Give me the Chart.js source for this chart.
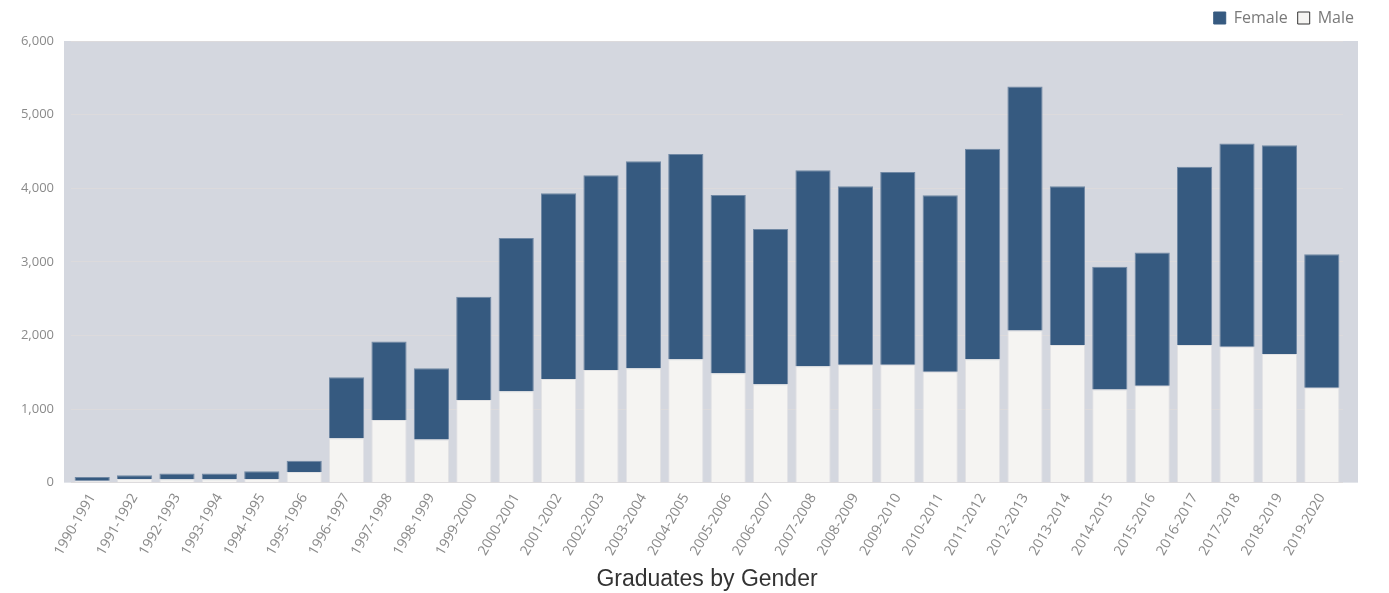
<!DOCTYPE html>
<html>
<head>
<meta charset="utf-8">
<script src="https://cdn.jsdelivr.net/npm/chart.js@4"></script>
<style>
  html, body { margin: 0; padding: 0; background: #ffffff; }
  #wrap { width: 1389px; height: 593px; }
</style>
</head>
<body>
<div id="wrap"><canvas id="gradChart"></canvas></div>
<script>
// academic years
var years = ['1990-1991', '1991-1992', '1992-1993', '1993-1994', '1994-1995', '1995-1996',
    '1996-1997', '1997-1998', '1998-1999', '1999-2000', '2000-2001', '2001-2002',
    '2002-2003', '2003-2004', '2004-2005', '2005-2006', '2006-2007', '2007-2008',
    '2008-2009', '2009-2010', '2010-2011', '2011-2012', '2012-2013', '2013-2014',
    '2014-2015', '2015-2016', '2016-2017', '2017-2018', '2018-2019', '2019-2020'];

// graduates
var male = [25, 49, 45, 45, 49, 143, 603, 851, 585, 1122, 1243, 1409,
    1531, 1554, 1676, 1486, 1338, 1581, 1603, 1603, 1508, 1676,
    2068, 1869, 1265, 1315, 1869, 1846, 1747, 1288];
var female = [50, 50, 80, 80, 105, 154, 829, 1068, 969, 1405, 2081, 2523,
    2645, 2811, 2788, 2423, 2108, 2662, 2424, 2617, 2397, 2859,
    3314, 2158, 1667, 1811, 2423, 2762, 2838, 1815];

var yTicks = [0, 1000, 2000, 3000, 4000, 5000, 6000];

// gray plot background, a bit wider than the bars
var plotBg = {
    id: 'plotBg',
    beforeDraw: function (chart) {
        var a = chart.chartArea;
        var ctx = chart.ctx;
        ctx.save();
        ctx.fillStyle = '#d4d7df';
        ctx.fillRect(a.left - 7, a.top, (a.right - a.left) + 22, a.bottom - a.top);
        ctx.restore();
    }
};

// extra room under the legend
var legendGap = {
    id: 'legendGap',
    beforeInit: function (chart) {
        var fit = chart.legend.fit;
        chart.legend.fit = function () {
            fit.bind(chart.legend)();
            this.height += 5;
        };
    }
};

var ctx = document.getElementById('gradChart').getContext('2d');
var gradChart = new Chart(ctx, {
    type: 'bar',
    data: {
        labels: years,
        datasets: [{
            label: 'Male',
            data: male,
            backgroundColor: '#f5f4f2',
            borderColor: '#e2e2e4',
            borderWidth: 1
        }, {
            label: 'Female',
            data: female,
            backgroundColor: '#365a80',
            borderColor: '#7088a4',
            borderWidth: 1
        }]
    },
    options: {
        responsive: true,
        maintainAspectRatio: false,
        animation: false,
        layout: {
            padding: { left: 0, right: 25, top: 0, bottom: 0 }
        },
        datasets: {
            bar: { barPercentage: 0.83, categoryPercentage: 1.0 }
        },
        scales: {
            x: {
                stacked: true,
                grid: { display: false },
                border: { display: false },
                ticks: {
                    color: '#8a8a8a',
                    font: { family: 'Open Sans', size: 14 },
                    minRotation: 60,
                    maxRotation: 60,
                    autoSkip: false,
                    padding: 0
                }
            },
            y: {
                stacked: true,
                min: 0,
                max: 6000,
                afterBuildTicks: function (axis) {
                    axis.ticks = yTicks.map(function (v) { return { value: v }; });
                },
                afterFit: function (axis) { axis.width = 71; },
                grid: { color: '#dcdadc', lineWidth: 1, drawTicks: false },
                border: { display: false },
                ticks: {
                    color: '#8a8a8a',
                    font: { family: 'Open Sans', size: 13 },
                    padding: 17,
                    callback: function (v) { return v.toLocaleString('en-US'); }
                }
            },
            yRight: {
                position: 'right',
                display: true,
                grid: { display: false },
                border: { display: false },
                ticks: { display: false },
                afterFit: function (axis) { axis.width = 21; }
            }
        },
        plugins: {
            legend: {
                position: 'top',
                align: 'end',
                reverse: true,
                labels: {
                    color: '#7a7a7a',
                    font: { family: 'Open Sans', size: 16 },
                    boxWidth: 12,
                    boxHeight: 12,
                    padding: 10,
                    generateLabels: function (chart) {
                        return chart.data.datasets.map(function (ds, i) {
                            return {
                                text: ds.label,
                                fillStyle: ds.backgroundColor,
                                strokeStyle: i === 0 ? '#333333' : ds.backgroundColor,
                                fontColor: '#7a7a7a',
                                lineWidth: 1,
                                datasetIndex: i,
                                hidden: false
                            };
                        });
                    }
                }
            },
            title: {
                display: true,
                fullSize: false,
                text: 'Graduates by Gender',
                position: 'bottom',
                color: '#333333',
                font: { family: 'Liberation Sans', size: 23, weight: 'normal' },
                padding: { top: 7, bottom: 0 }
            },
            tooltip: { enabled: false }
        }
    },
    plugins: [plotBg, legendGap]
});
</script>
</body>
</html>
